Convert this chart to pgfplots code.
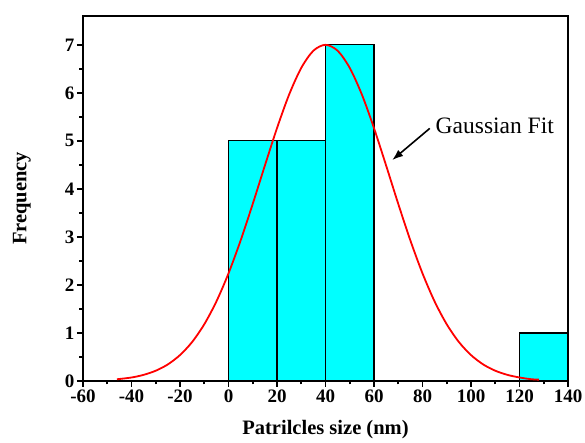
\documentclass[border=0pt]{standalone}
\usepackage{fontspec}
\setmainfont{Liberation Serif}
\usepackage{pgfplots}
\pgfplotsset{compat=1.18}
\usetikzlibrary{arrows.meta}
\definecolor{barcyan}{RGB}{0,255,255}

\begin{document}
\begin{tikzpicture}
\begin{axis}[
    name=ax,
    scale only axis,
    width=485pt, height=365pt,
    xmin=-60, xmax=140,
    ymin=0, ymax=7.6,
    xtick={-60,-40,...,140},
    ytick={0,1,...,7},
    minor x tick num=1,
    minor y tick num=1,
    xtick pos=bottom, ytick pos=left,
    tick align=outside,
    major tick length=6pt,
    minor tick length=3.5pt,
    axis line style={line width=2pt},
    tick style={line width=1.6pt, black},
    /pgf/number format/assume math mode=true,
    tick label style={font=\fontsize{19}{22}\selectfont\bfseries},
    xticklabel style={yshift=1pt},
    yticklabel style={xshift=1pt},
    xlabel={Patrilcles size (nm)},
    ylabel={Frequency},
    label style={font=\fontsize{20.5}{24}\selectfont\bfseries},
    xlabel style={at={(axis description cs:0.5,-0.134)}, anchor=center},
    ylabel style={at={(axis description cs:-0.126,0.5)}, anchor=center},
    clip=false,
]

% histogram bars
\addplot[ybar interval, fill=barcyan, draw=black, line width=1.2pt] coordinates {
    (0,5) (20,5) (40,7) (60,7)
};
\addplot[ybar interval, fill=barcyan, draw=black, line width=1.2pt] coordinates {
    (120,1) (140,1)
};

% gaussian fit
\addplot[red, line width=1.8pt, smooth] coordinates {
    (-46,0.036) (-40,0.073) (-35,0.128) (-30,0.214) (-25,0.346)
    (-20,0.540) (-15,0.812) (-10,1.180) (-5,1.655) (0,2.241)
    (5,2.926) (10,3.688) (15,4.486) (20,5.265) (25,5.964)
    (30,6.519) (35,6.877) (40,7.000) (45,6.877) (50,6.519)
    (55,5.964) (60,5.265) (65,4.486) (70,3.688) (75,2.926)
    (80,2.241) (85,1.655) (90,1.180) (95,0.812) (100,0.540)
    (105,0.346) (110,0.214) (115,0.128) (120,0.073) (125,0.036)
    (128,0.028)
};

\draw[-{Latex[length=11pt,width=8pt]}, line width=1.6pt] (axis cs:83,5.26) -- (axis cs:67.5,4.6);
\node[anchor=west, font=\fontsize{23.5}{26}\selectfont] at (axis cs:84,5.32) {Gaussian Fit};

\end{axis}
\pgfresetboundingbox
\path[use as bounding box] ([xshift=-83pt, yshift=-62pt]ax.south west)
    rectangle ([xshift=17pt, yshift=16pt]ax.north east);
\end{tikzpicture}
\end{document}
